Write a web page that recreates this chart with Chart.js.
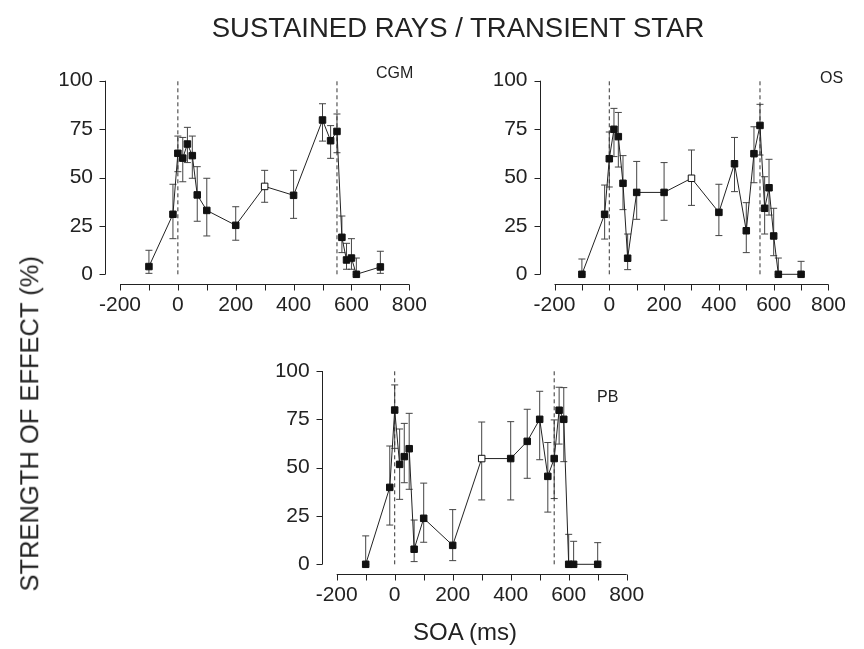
<!DOCTYPE html>
<html>
<head>
<meta charset="utf-8">
<script src="https://cdn.jsdelivr.net/npm/chart.js@4/dist/chart.umd.min.js"></script>
<style>
  html, body { margin:0; padding:0; background:#fff; }
  #wrap { position:relative; width:864px; height:649px; overflow:hidden; background:#fff; font-family:"Liberation Sans", Arial, sans-serif; color:#222; }
  canvas { position:absolute; left:0; top:0; }
  .txt { position:absolute; white-space:nowrap; line-height:1; }
</style>
</head>
<body>
<div id="wrap">
  <canvas id="cgm" width="864" height="649"></canvas>
  <canvas id="os" width="864" height="649"></canvas>
  <canvas id="pb" width="864" height="649"></canvas>
  <div class="txt" id="title" style="left:0;width:916px;text-align:center;top:14px;font-size:27.5px;">SUSTAINED RAYS / TRANSIENT STAR</div>
  <div class="txt" id="ytitle" style="left:-170px;width:400px;text-align:center;top:411px;font-size:25.5px;transform:rotate(-90deg);">STRENGTH OF EFFECT (%)</div>
  <div class="txt" id="xtitle" style="left:265px;width:400px;text-align:center;top:620px;font-size:24px;">SOA (ms)</div>
  <div class="txt" style="left:376px;top:65px;font-size:16px;">CGM</div>
  <div class="txt" style="left:820px;top:70px;font-size:16px;">OS</div>
  <div class="txt" style="left:597px;top:389px;font-size:16px;">PB</div>
</div>
<script>
// ---------- data ----------
const xTickValues = [-200, 0, 200, 400, 600, 800];
const yTickValues = [0, 25, 50, 75, 100];
const markerSOA = [0, 550];          // stimulus onset / offset (dashed lines)

const cgmSOA  = [-100, -17, 0, 17, 33, 50, 67, 100, 200, 300, 400, 500, 528, 550, 567, 583, 600, 617, 700];
const cgmVal  = [4, 31, 62.5, 60, 67.3, 61.3, 41, 33, 25.3, 45.4, 40.8, 79.7, 69, 73.8, 19.1, 7.4, 8.4, 0, 3.8];
const cgmHigh = [12.4, 46.5, 71.4, 70.7, 75.9, 71.4, 55.6, 49.6, 34.9, 53.7, 53.7, 88.1, 76.8, 82.8, 30.1, 16, 18.4, 8.4, 11.9];
const cgmLow  = [0.5, 18.4, 53, 47.8, 57.7, 49.6, 27.4, 19.8, 17.6, 37.2, 28.9, 68.8, 59.9, 62.8, 11.2, 2.6, 2.6, 0, 0.5];

const osSOA  = [-100, -17, 0, 17, 33, 50, 67, 100, 200, 300, 400, 457, 500, 528, 550, 567, 583, 600, 617, 700];
const osVal  = [0, 31, 59.7, 74.9, 71.1, 47, 8.3, 42.3, 42.3, 49.6, 32, 57.1, 22.5, 62.3, 76.9, 34.1, 44.7, 19.8, 0, 0];
const osHigh = [7.9, 46.1, 73.5, 85.7, 83.6, 61.3, 20.8, 58.3, 57.7, 64.2, 46.5, 70.7, 37, 76.2, 87.8, 50.4, 59.4, 34.1, 8.4, 6.7];
const osLow  = [0, 18.2, 45.1, 60.8, 55.4, 33.4, 2.4, 28.4, 27.9, 35.6, 20, 42.7, 11.2, 47.3, 61.6, 20.8, 30.6, 9.6, 0, 0];

const pbSOA  = [-100, -17, 0, 17, 33, 50, 67, 100, 200, 300, 400, 457, 500, 528, 550, 567, 583, 600, 617, 700];
const pbVal  = [0, 39.8, 79.8, 51.7, 55.7, 59.8, 7.8, 23.8, 9.8, 54.7, 54.7, 63.6, 75, 45.5, 54.7, 79.7, 75, 0, 0, 0];
const pbHigh = [14.7, 61.2, 92.8, 70, 72.9, 78.1, 22.9, 42, 28.3, 73.6, 73.8, 80.2, 89.5, 63, 74.7, 91.6, 91.4, 15.5, 11.9, 11.2];
const pbLow  = [0, 20.3, 60, 33.6, 42.2, 38.8, 1.4, 11.4, 1.9, 33.3, 33.3, 44.5, 54.1, 27, 34, 62.2, 53.1, 0, 0, 0];

const openSOA = 300;   // the open (unfilled) square

// ---------- drawing ----------
const INK = '#222';
const FONT = '"Liberation Sans", Arial, sans-serif';

const originPlugin = {
  id: 'originAxes',
  beforeDatasetsDraw(chart) {
    const o = chart.options.plugins.originAxes;
    const ctx = chart.ctx, xs = chart.scales.x, ys = chart.scales.y;
    ctx.save();
    ctx.strokeStyle = '#444';
    ctx.lineWidth = 1;
    o.soa.forEach((sv, i) => {
      const px = xs.getPixelForValue(sv);
      const yt = ys.getPixelForValue(o.high[i]);
      const yb = ys.getPixelForValue(o.low[i]);
      ctx.beginPath();
      ctx.moveTo(px, yt); ctx.lineTo(px, yb);
      ctx.moveTo(px - 3.5, yt); ctx.lineTo(px + 3.5, yt);
      ctx.moveTo(px - 3.5, yb); ctx.lineTo(px + 3.5, yb);
      ctx.stroke();
    });
    ctx.restore();
  },
  afterDraw(chart) {
    const ctx = chart.ctx, xs = chart.scales.x, ys = chart.scales.y, a = chart.chartArea;
    ctx.save();
    ctx.strokeStyle = INK;
    ctx.lineWidth = 1;
    // y axis (offset left)
    const ax = Math.round(a.left - 15) + 0.5;
    const y0 = ys.getPixelForValue(0), y1 = ys.getPixelForValue(100);
    ctx.beginPath();
    ctx.moveTo(ax, y0); ctx.lineTo(ax, y1);
    yTickValues.forEach(v => {
      const py = Math.round(ys.getPixelForValue(v)) + 0.5;
      ctx.moveTo(ax, py); ctx.lineTo(ax - 6, py);
    });
    // x axis (offset below)
    const ay = Math.round(a.bottom + 10) + 0.5;
    const xl = xs.getPixelForValue(-200), xr = xs.getPixelForValue(800);
    ctx.moveTo(xl, ay); ctx.lineTo(xr, ay);
    for (let v = -200; v <= 800; v += 100) {
      const px = Math.round(xs.getPixelForValue(v)) + 0.5;
      ctx.moveTo(px, ay); ctx.lineTo(px, ay + 6);
    }
    ctx.stroke();
    ctx.restore();
  }
};

function makePanel(id, area, soa, val, high, low) {
  const W = 60, H = 50;
  const pts = soa.map((s, i) => ({ x: s, y: val[i] }));
  const fills = soa.map(s => s === openSOA ? '#fff' : '#111');
  const datasets = [{
    data: pts,
    showLine: true,
    borderColor: INK,
    borderWidth: 1,
    pointStyle: 'rect',
    pointRadius: 4.6,
    pointBorderWidth: 1,
    pointBorderColor: '#111',
    pointBackgroundColor: fills,
    clip: false
  }];
  markerSOA.forEach(m => datasets.push({
    data: [{ x: m, y: 0 }, { x: m, y: 100 }],
    showLine: true,
    borderColor: '#333',
    borderWidth: 1,
    borderDash: [4, 3],
    pointRadius: 0,
    clip: false
  }));
  new Chart(document.getElementById(id), {
    type: 'scatter',
    data: { datasets },
    plugins: [originPlugin],
    options: {
      responsive: false,
      animation: false,
      devicePixelRatio: 1,
      layout: { padding: {
        left: area.left - W, right: 864 - area.right,
        top: area.top, bottom: 649 - area.bottom - H } },
      plugins: {
        legend: { display: false },
        tooltip: { enabled: false },
        originAxes: { soa, high, low }
      },
      scales: {
        x: {
          type: 'linear', min: -200, max: 800,
          afterFit: s => { s.height = H; },
          afterBuildTicks: s => { s.ticks = xTickValues.map(v => ({ value: v })); },
          grid: { display: false, drawTicks: false },
          border: { display: false },
          ticks: { color: INK, font: { family: FONT, size: 21 }, padding: 18, maxRotation: 0, autoSkip: false }
        },
        y: {
          type: 'linear', min: 0, max: 100,
          afterFit: s => { s.width = W; },
          afterBuildTicks: s => { s.ticks = yTickValues.map(v => ({ value: v })); },
          grid: { display: false, drawTicks: false },
          border: { display: false },
          ticks: { color: INK, font: { family: FONT, size: 21 }, padding: 27 }
        }
      }
    }
  });
}

makePanel('cgm', { left: 120, right: 409.3, top: 80.7, bottom: 274.3 }, cgmSOA, cgmVal, cgmHigh, cgmLow);
makePanel('os',  { left: 554.5, right: 843.8, top: 80.7, bottom: 274.3 }, osSOA, osVal, osHigh, osLow);
makePanel('pb',  { left: 336.7, right: 626.7, top: 371, bottom: 564.3 }, pbSOA, pbVal, pbHigh, pbLow);
</script>
</body>
</html>
